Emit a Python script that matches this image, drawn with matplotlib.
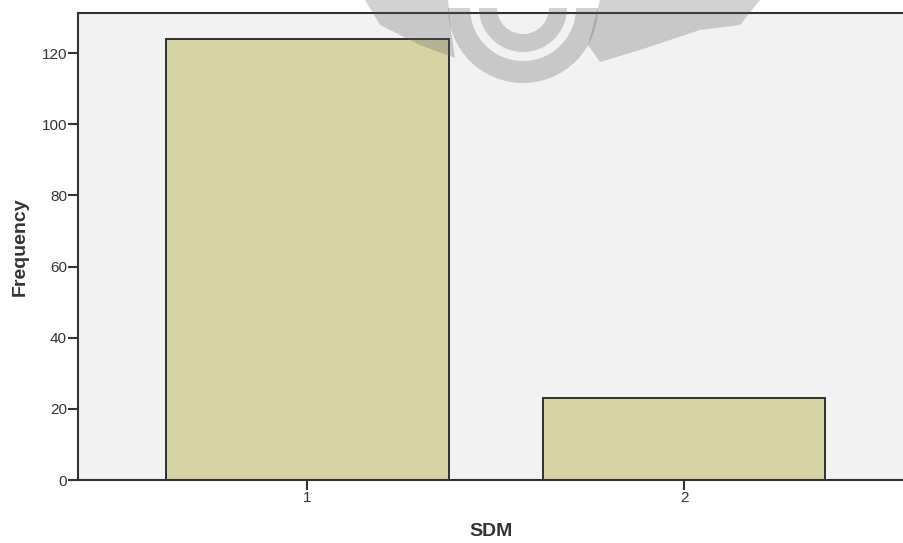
import matplotlib
matplotlib.use("Agg")
import matplotlib.pyplot as plt
from matplotlib.patches import Wedge, Polygon

plt.rcParams['font.family'] = ['Liberation Sans', 'DejaVu Sans']

# data
categories = ["1", "2"]
positions = [1, 2]
frequency = [124, 23]
y_ticks = [0, 20, 40, 60, 80, 100, 120]

fig = plt.figure(figsize=(9.04, 5.43), dpi=100)
ax = fig.add_axes([78 / 904, 63 / 543, 1 - 78 / 904, 467 / 543])
ax.set_facecolor("#f2f2f2")

ax.bar(positions, frequency, width=0.75, color="#d6d3a4",
       edgecolor="#222222", linewidth=1.3, zorder=2)

ax.set_xlim(0.391, 2.584)
ax.set_ylim(0, 131.3)
ax.set_xticks(positions)
ax.set_xticklabels(categories)
ax.set_yticks(y_ticks)

for side in ["left", "top", "bottom"]:
    ax.spines[side].set_color("#333333")
    ax.spines[side].set_linewidth(1.5)
ax.spines["right"].set_visible(False)

ax.tick_params(axis="both", direction="out", length=7, width=1.5,
               color="#333333", labelsize=11, labelcolor="#333333", pad=1)

ax.set_xlabel("SDM", fontsize=14, fontweight="bold", color="#333333", labelpad=13)
ax.set_ylabel("Frequency", fontsize=14, fontweight="bold", color="#333333", labelpad=9)

# faint watermark at the top (pixel coordinates)
wm = fig.add_axes([0, 0, 1, 1], zorder=5)
wm.set_xlim(0, 904)
wm.set_ylim(543, 0)
wm.axis("off")
wm.patch.set_alpha(0)
kw = dict(facecolor="#5e5e5e", alpha=0.28, edgecolor="none")
wm.add_patch(Wedge((523, 8), 75, 0, 180, width=22, **kw))
wm.add_patch(Wedge((523, 8), 44, 0, 180, width=18, **kw))
wm.add_patch(Polygon([(600, 0), (760, 0), (740, 25), (700, 30), (640, 50),
                      (600, 62), (588, 45)], closed=True, **kw))
wm.add_patch(Polygon([(448, 0), (365, 0), (380, 25), (420, 45), (455, 58),
                      (451, 30)], closed=True, **kw))

fig.savefig("out.png", dpi=100)
